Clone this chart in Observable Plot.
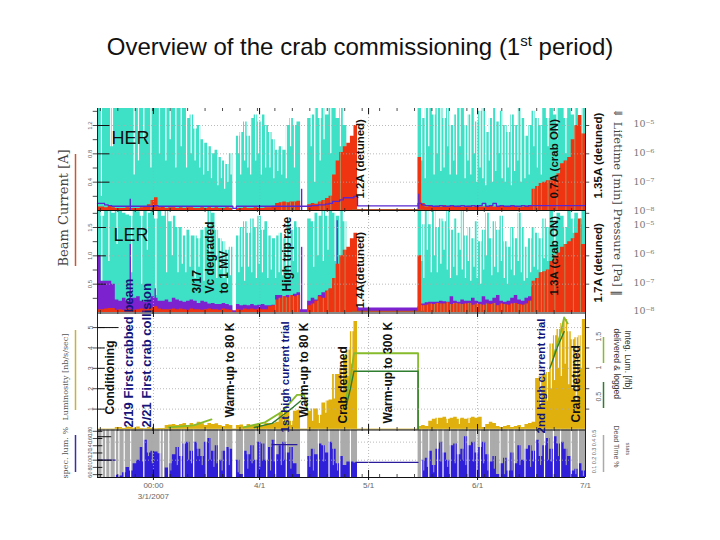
<!DOCTYPE html>
<html><head><meta charset="utf-8">
<script src="https://cdn.jsdelivr.net/npm/d3@7"></script>
<script src="https://cdn.jsdelivr.net/npm/@observablehq/plot@0.6"></script>
<style>
html,body{margin:0;padding:0;background:#fff;width:720px;height:540px;overflow:hidden}
#t{height:90px;box-sizing:border-box;padding-top:33px;text-align:center;font:24px "Liberation Sans",Arial,sans-serif;color:#111;white-space:nowrap}
#t sup{font-size:15px;line-height:0}
svg{display:block;overflow:visible}
</style></head><body>
<div id="t">Overview of the crab commissioning (1<sup>st</sup> period)</div>
<div id="c"></div>
<script>
const herTeal=[
1.44,1.44,1.44,1.44,1.44,1.44,1.44,1.44,1.44,1.44,
1.44,1.44,1.44,1.44,1.44,1.44,1.44,1.44,1.44,1.44,
1.44,1.44,1.44,1.44,1.44,1.3,1.35,1.15,1.2,1.0,
.95,.9,.8,.85,.75,.7,.65,.8,0,1.05,
1.1,1.25,1.05,1.3,1.35,1.25,1.35,1.2,1.1,1.0,
.85,.9,.85,1.2,1.3,1.2,1.25,0,0,1.3,
1.35,1.44,1.3,1.44,1.35,1.44,1.44,1.3,1.44,1.2,
.6,.6,.55,0,0,0,0,0,0,0,
0,0,0,0,0,0,0,0,0,0,
1.44,1.3,1.44,1.44,1.35,1.44,1.44,1.3,1.44,1.2,
1.35,1.44,1.44,1.2,1.35,1.44,1.25,1.4,1.44,1.1,
1.3,1.44,1.25,1.4,1.2,1.1,1.35,1.2,1.44,1.3,
1.05,1.2,1.4,1.3,1.2,1.44,1.3,1.44,1.35,1.44,
1.44,1.3,1.44,1.35,1.44,1.3,1.44,1.44];
const herNotchDay=[1.1,3.7,4.2,10.3,11.5,13,15,17.4,19.2,20.4,22,23.5,25,26.3,27.4,28.7,29.8,31,32,33.8,34.8,35.7,36.6,37.5,
39.6,40.2,41.3,42.2,43,44.4,45.2,46,47.2,48.4,49.5,50.6,51.7,53,54.2,55.3,60,61,62.5,63.6,65.5,68.2,
91,92,93,94.5,95.4,96.4,97.3,98.3,99,100,100.8,101.8,103.2,104,104.8,105.8,106.5,107.4,108.2,109,110,110.9,111.8,112.8,113.6,114.5,115.3,116.2,117.1,118,118.9,120,121.2,122.5,123.5,124.6,126.5,129,131.5,134,136];
const herNotchFloor=[.2,.9,.9,.5,.7,1.0,.6,.8,.7,1.0,.6,.9,.6,.8,.7,.6,.5,.55,.45,.35,.45,.3,.4,.5,
.8,.5,.7,.6,.5,.7,.8,.5,.6,.6,.45,.55,.5,.45,.9,.6,.9,.4,.7,1.0,.8,.9,
.7,.45,.9,.5,.8,.55,.6,.9,.5,.7,.5,.9,.45,.7,.5,.8,.4,.6,.45,.35,.7,.4,.55,.8,.45,.4,.6,.35,.55,.7,.4,.45,.5,.9,.6,.5,.9,1.0,.8,1.0,.9];
const herRed=[
.05,.05,.04,.06,.04,.03,.03,.03,.04,.03,
.03,.03,.04,.05,.08,.14,.18,.04,.05,.03,
.04,.04,.03,.04,.03,.04,.04,.03,.03,.04,
.03,.04,.03,.04,.03,.03,.04,.03,0,.03,
.03,.04,.03,.03,.04,.03,.03,.04,.04,.06,
.1,.11,.12,.11,.12,.12,.13,0,0,.08,
.1,.09,.12,.14,.17,.2,.5,.7,.82,.9,
.95,1.05,1.2,0,0,0,0,0,0,0,
0,0,0,0,0,0,0,0,0,0,
.75,.1,.05,.06,.05,.06,.05,.07,.05,.06,
.05,.06,.05,.05,.06,.05,.06,.05,.05,.05,
.06,.05,.05,.06,.05,.05,.06,.05,.04,.05,
.06,.07,.3,.34,.38,.4,.42,.42,.45,.52,
.66,.7,.75,1.0,1.2,1.34,1.08,.9];
const herPurple=[
.1,.1,.08,.07,.06,.06,.06,.06,.06,.06,
.06,.06,.06,.06,.06,.06,.07,.06,.06,.06,
.06,.06,.06,.06,.06,.06,.06,.06,.06,.06,
.06,.06,.06,.06,.06,.06,.06,.06,.03,.06,
.06,.06,.06,.06,.06,.06,.06,.06,.06,.06,
.06,.06,.06,.06,.06,.06,.06,.06,.06,.06,
.07,.07,.08,.08,.09,.1,.13,.13,.15,.18,
.18,.18,.2,.065,.065,.065,.065,.065,.065,.065,
.065,.065,.065,.065,.065,.065,.065,.065,.065,.065,
.1,.08,.07,.07,.06,.06,.07,.06,.06,.07,
.06,.06,.07,.06,.06,.07,.06,.07,.1,.06,
.07,.1,.06,.07,.06,.06,.07,.06,.06,.07,
.06,.07,.07,.07,.07,.07,.07,.07,.07,.07,
.07,.07,.07,.07,.07,.07,.07,.07];
const herSpikeDay=[9.2,57.3,90.2], herSpikeTop=[.16,.3,.23];
const lerTeal=[
1.8,1.7,1.8,1.8,1.75,1.8,1.8,1.75,1.72,1.7,
1.8,1.78,1.7,1.8,1.75,1.8,1.65,1.8,1.7,1.8,
1.6,1.7,1.5,1.5,1.35,1.45,1.35,1.35,1.3,1.45,
1.5,1.8,1.75,1.45,1.3,1.25,1.1,1.15,0,1.35,
1.5,1.6,1.4,1.65,1.5,1.7,1.45,1.6,1.35,1.3,
1.35,1.4,1.3,1.6,1.45,1.6,1.5,0,0,1.65,
1.6,1.75,1.7,1.8,1.7,1.8,1.75,1.7,1.8,1.6,
.9,.85,.8,0,0,0,0,0,0,0,
0,0,0,0,0,0,0,0,0,0,
1.8,1.55,1.8,1.55,1.8,1.5,1.65,1.6,1.8,1.45,
1.65,1.4,1.8,1.35,1.5,1.3,1.6,1.25,1.45,1.75,
1.3,1.6,1.45,1.7,1.25,1.15,1.5,1.3,1.75,1.5,
1.15,1.3,1.5,1.4,1.3,1.65,1.5,1.8,1.6,1.75,
1.7,1.5,1.8,1.65,1.75,1.55,1.8,1.8];
const lerNotchDay=[1.2,3.2,5.5,9.6,12.4,14,16.4,19.4,21,22.6,23.8,24.8,26,27.4,28.5,29.9,31.5,33.5,34.6,35.5,36.5,37.3,
39.7,40.5,41.3,42.4,43.3,44.6,45.4,46.3,47.8,48.8,50,51,52,53,54,55,56.2,60.7,61.9,63.4,64.7,66.7,68,69.5,
91,91.6,92.6,93.7,94.6,95.4,96.4,97.3,98.2,99.1,100,100.9,101.8,102.4,103.3,104.1,104.8,105.7,106.6,107.6,108.4,109.2,110.7,111.5,112.4,113.4,114.2,115.1,116.2,117,118.1,119,119.8,120.6,121.6,122.6,123.6,124.6,125.4,126.4,128.4,131.2,133.6,135.6];
const lerNotchFloor=[.4,.9,1.2,.7,.5,1.1,.3,.7,1.0,.7,.85,.7,.8,.6,.8,.55,1.0,.6,.75,.6,.5,.65,
.7,.8,.55,.8,.7,.6,.85,.7,.6,.75,.6,.7,.65,.8,.6,.9,.7,.8,1.0,.9,1.1,.9,1.0,.8,
.9,.6,1.1,.7,1.0,.7,.85,1.1,.75,.6,.8,.65,1.1,.75,.6,.9,.55,.8,.6,.5,.75,1.0,.65,.8,.7,.9,.6,.5,.75,.65,.9,.7,.55,.6,.7,.8,.75,.7,.95,.9,1.2,1.1,1.4,1.2];
const lerRed=[
.05,.05,.06,.07,.07,.04,.05,.04,.06,.05,
.04,.05,.06,.05,.06,.08,.1,.06,.05,.05,
.05,.06,.05,.06,.05,.04,.06,.05,.05,.04,
.05,.06,.05,.05,.04,.06,.05,.04,0,.05,
.04,.06,.05,.06,.05,.06,.05,.05,.1,.12,
.22,.25,.28,.26,.3,.28,.3,0,0,.12,
.15,.2,.28,.25,.38,.42,.6,.85,1.0,1.1,
1.15,1.3,1.4,0,0,0,0,0,0,0,
0,0,0,0,0,0,0,0,0,0,
1.0,.12,.13,.15,.14,.16,.15,.15,.17,.14,
.16,.15,.14,.15,.16,.13,.15,.14,.13,.15,
.14,.16,.12,.15,.14,.13,.15,.16,.14,.13,
.15,.2,.55,.6,.7,.72,.75,.9,1.0,1.05,
1.15,1.2,1.25,1.3,1.4,1.65,1.2,1.0];
const lerPurple=[
1.0,.55,.55,.55,.5,.22,.2,.25,.2,.25,
.25,.28,.2,.18,.22,.28,.25,.2,.2,.22,
.18,.25,.22,.2,.18,.2,.22,.2,.16,.2,
.18,.15,.16,.14,.14,.16,.14,.12,.03,.14,
.12,.13,.12,.14,.12,.13,.14,.12,.12,.13,
.3,.3,.28,.3,.3,.32,.35,.05,.05,.2,
.25,.22,.3,.35,.3,.4,.5,.55,.7,.45,
.42,.45,.48,.08,.08,.08,.08,.08,.08,.08,
.08,.08,.08,.08,.08,.08,.08,.08,.08,.08,
.1,.15,.17,.18,.18,.18,.2,.19,.18,.28,
.2,.18,.22,.2,.2,.25,.2,.18,.28,.22,
.2,.25,.3,.2,.18,.2,.25,.3,.22,.2,
.25,.28,.45,.5,.4,.4,.4,.3,.3,.3,
.3,.3,.3,.3,.3,.3,.3,.3];
const lerSpikeDay=[.4,9.2,16.2,57.3,67.3], lerSpikeTop=[1.0,1.2,.42,1.15,1.62];
const lumGold=[
0,0,0,0,0,.1,.1,.05,.12,.1,
.05,.12,.05,.02,.1,.05,.02,.05,.05,.2,
.22,.25,.2,.25,.3,.2,.3,.22,.35,.28,
.2,.3,.25,.28,.2,.15,.25,.2,0,.2,
.22,.12,.25,.2,.25,.3,.15,.3,.28,.3,
.35,.8,.85,.9,.4,.9,.95,0,0,.9,
1.0,1.0,.7,1.3,1.4,1.45,2.7,2.7,3.0,3.6,
3.9,4.8,5.3,0,0,0,0,0,0,0,
0,0,0,0,0,0,0,0,0,0,
.15,.2,.15,.4,.5,.55,.55,.6,.5,.55,
.6,.5,.55,.5,.55,.6,.55,.6,.1,.25,
.35,.3,.15,.1,.15,.2,.1,.15,.2,.1,
.25,.3,.35,2.5,2.6,2.7,2.8,4.2,4.6,4.9,
5.2,5.4,4.8,4.4,4.5,4.6,5.4,4.6];
const lumCutDay=[52.2,54.5,60.4,62.3,64.1,66.5,68.7,70.3,71.4,95.4,98.2,101.6,104.3,124.4,126.3,127.4,128.3,129.4,130.2,131.3,132.3,133.3,134.4,135.2,135.8];
const lumCutFloor=[.3,.2,.4,.3,.8,1.5,1.8,2.6,3.2,.25,.3,.25,.3,1.2,1.4,2.0,2.4,3.0,2.6,3.2,2.2,2.0,1.4,2.6,3.0];
const specBlue=[
52,52,52,52,52,58,56,65,80,70,
90,100,135,155,120,125,123,118,52,78,
90,115,135,110,145,150,125,150,130,110,
150,160,125,140,100,125,135,130,52,100,
60,125,115,140,100,150,145,100,135,155,
115,140,150,120,135,90,60,52,52,110,
130,115,145,140,120,150,130,90,110,85,
95,95,92,52,52,52,52,52,52,52,
52,52,52,52,52,52,52,52,52,52,
52,100,105,125,85,130,150,120,100,140,
145,115,130,165,140,150,120,135,150,115,
95,110,60,90,105,70,120,90,140,100,
130,140,125,155,110,140,160,130,165,145,
150,130,110,70,75,90,70,60];
const blueCutDay=[12.7,14.3,15.4,20.6,22.4,25.6,26.4,28.2,29.4,31.6,32.7,33.5,35,37,39.5,42.2,43.4,45.6,46.4,48.6,49.6,51.6,52.4,54.3,59.6,60.6,63.5,66.2,67.4,91.6,92.6,94.4,96.4,98.3,100.4,102.6,103.4,105.6,108.4,109.6,111.4,114.3,116.4,118.6,121.6,122.4,124.4,126.6,127.4,129.4,131.6,134.3,136.4];
const blueCutFloor=[95,110,90,70,85,100,90,110,85,100,80,90,70,85,65,75,90,80,100,70,95,85,100,75,80,70,95,85,70,70,80,65,95,80,90,100,85,95,90,70,75,60,70,85,80,95,85,100,95,110,85,60,55];
const lightDays=[20,27,32,NaN,41,47,52,56,58,59,NaN,69.6,71,72,90,90,NaN,128,130,131,132];
const lightLum=[.1,.2,.5,NaN,.1,.35,.9,1.7,1.7,.9,NaN,1.4,2.5,3.74,3.74,0,NaN,3.6,4.7,5.5,5.2];
const darkDays=[44,49,52,55,57,NaN,69.6,71,72,90,90,NaN,127,129,131];
const darkLum=[.1,.3,.7,1.1,1.4,NaN,1,2,2.86,2.86,0,NaN,3,4,4.8];
const specStepDays=[0,5,NaN,49,56,NaN,72.5,90];
const specStepVals=[100,100,NaN,143,143,NaN,94,94];
const specGaps=[1.3,2.3,3.5,5,6,7.5,9.3,13,17.6,18.5,20,23.5,24.3,27,30.5,34,36,41,44.5,47.5,50,53,62,65,68,71,91,93,95.5,97,99,101.2,104,106.5,107.5,110,113,115.3,117,120,123,125.5,128,130,133,135];
const offBlocks=[[38,39],[57,59],[73,90]];
const majorDays=[15.7,45.5,76.1,106.7,137];
const dateLabels=["3/1/2007","4/1","5/1","6/1","7/1"];
const herGrid=[.4,.8,1.2], lerGrid=[.5,1,1.5], lumGrid=[1,2,3,4,5], specGrid=[100,150];
const specLabels=[180,160,140,120,100,80,60];
const pressureLabels=[["10⁻⁵",123],["10⁻⁶",152],["10⁻⁷",181],["10⁻⁸",210],["10⁻⁵",224],["10⁻⁶",253],["10⁻⁷",282],["10⁻⁸",310]];

// each panel maps its own value range on the shared vertical scale
const panel=(top,bottom,min,max)=>v=>bottom-(v-min)/(max-min)*(bottom-top);
const her=panel(108,210,0,1.44), ler=panel(210,312,0,1.8), lum=panel(313,429,0,5.69), spec=panel(429,477,52,185);

const idx=herTeal.map((_,i)=>i);
const fill=(arr,f,color,base)=>Plot.areaY(idx,{x:i=>i,y1:()=>base,y2:i=>f(arr[i]),fill:color,curve:"step-after"});
const cuts=(days,floors,f,top,color,w)=>Plot.ruleX(days,{y1:(d,i)=>f(floors[i]),y2:top,stroke:color,strokeWidth:w});
const spikes=(days,tops,f,base,color)=>Plot.ruleX(days,{y1:base,y2:(d,i)=>f(tops[i]),stroke:color,strokeWidth:1.4});
const sans='"Liberation Sans",Arial,sans-serif', serif='"DejaVu Serif",serif';
const note=(s,px,py,o={})=>Plot.text([s],{frameAnchor:"top-left",textAnchor:"start",lineAnchor:"middle",rotate:-90,dx:px-97,dy:py-108,fontSize:12,fontWeight:"bold",fontFamily:sans,fill:"#111",...o});
const navy={fill:"#14147a"};
const side=(s,px,py,o={})=>note(s,px,py,{fontWeight:"normal",fontFamily:serif,fontSize:8,fill:"#555",...o});
const hline=(px1,px2,py,c,w=1)=>Plot.ruleY([py],{x1:(px1-97)/3.562,x2:(px2-97)/3.562,stroke:c,strokeWidth:w});
const vline=(px,y1,y2,c,w=1.5)=>Plot.ruleX([(px-97)/3.562],{y1,y2,stroke:c,strokeWidth:w});
const minor=d3.range(.8,137,4.9);
const TEAL="#3ee0c6",RED="#ee3410",PUR="#7d22cf",GOLD="#e0b00f",GRAY="#ababab",BLUE="#2f1fd8";
const grid={stroke:"#aaa",strokeDasharray:"1,2",strokeWidth:.8};
const redCuts=(days,arr,f,base)=>Plot.ruleX(days.filter(d=>arr[Math.floor(d)]>.1),{y1:base,y2:d=>f(arr[Math.floor(d)]),stroke:"#a9a06a",strokeWidth:.8});
const rotSmall={rotate:-90,fontFamily:sans};

const plot=Plot.plot({
 width:720,height:430,marginLeft:97,marginRight:135,marginTop:18,marginBottom:42,
 x:{domain:[0,137],axis:null},y:{domain:[478,108],axis:null},
 style:{background:"transparent"},
 marks:[
  fill(herTeal,her,TEAL,210),
  fill(lerTeal,ler,TEAL,312),
  cuts(herNotchDay,herNotchFloor,her,108,"#fff",1.2),
  cuts(lerNotchDay,lerNotchFloor,ler,210,"#fff",1.2),
  fill(lerPurple,ler,PUR,312),
  spikes(lerSpikeDay,lerSpikeTop,ler,312,PUR),
  fill(herRed,her,RED,210),
  fill(lerRed,ler,RED,312),
  redCuts(herNotchDay,herRed,her,210),
  redCuts(lerNotchDay,lerRed,ler,312),
  Plot.line(idx,{x:i=>i,y:i=>her(herPurple[i]),stroke:"#5a28d0",strokeWidth:1.3,curve:"step-after"}),
  spikes(herSpikeDay,herSpikeTop,her,210,"#5a28d0"),
  hline(352,424,her(.012),"#b9552c",1.2),
  hline(352,424,ler(.02),"#b9552c",1.2),
  // luminosity
  fill(lumGold,lum,GOLD,429),
  cuts(lumCutDay,lumCutFloor,lum,313,"#fff",1.1),
  hline(97,585,428.6,"#dfc65a",1.2),
  Plot.line(lightDays,{x:d=>d,y:(d,i)=>lum(lightLum[i]),stroke:"#86bb2c",strokeWidth:1.8}),
  Plot.line(darkDays,{x:d=>d,y:(d,i)=>lum(darkLum[i]),stroke:"#2f7d2f",strokeWidth:1.4}),
  // spec lum / dead time
  Plot.rectY([[0,137]],{x1:d=>d[0],x2:d=>d[1],y1:429.5,y2:477,fill:GRAY}),
  Plot.areaY(idx,{x:i=>i,y1:()=>477,y2:i=>spec(specBlue[i]),fill:BLUE,curve:"step-after"}),
  cuts(blueCutDay,blueCutFloor,spec,429.5,GRAY,1),
  Plot.ruleX(specGaps,{y1:477,y2:429.5,stroke:"#fff",strokeWidth:1.2}),
  Plot.rect(offBlocks,{x1:d=>d[0],x2:d=>d[1],y1:430,y2:477,fill:"#fff"}),
  Plot.line(specStepDays,{x:d=>d,y:(d,i)=>spec(specStepVals[i]),stroke:"#2a1a9c",strokeWidth:1.2}),
  // grid
  Plot.ruleY(herGrid.map(her),grid),
  Plot.ruleY(lerGrid.map(ler),grid),
  Plot.ruleY(lumGrid.map(lum),grid),
  Plot.ruleY(specGrid.map(spec),grid),
  Plot.ruleX(majorDays.slice(0,4),{y1:108,y2:477,...grid}),
  // frame & ticks
  Plot.ruleX([0,137],{y1:108,y2:477,stroke:"#222",strokeWidth:1}),
  Plot.ruleY([210,312.5],{stroke:"#111",strokeWidth:1}),
  Plot.ruleY([429.5,477],{stroke:"#111",strokeWidth:1}),
  ...[[108,114],[205,215],[307,317],[424,434],[470,480]].map(([a,b])=>Plot.ruleX(majorDays.slice(0,4),{y1:a,y2:b,stroke:"#111",strokeWidth:1})),
  ...[[108,111],[208,212],[310,314],[427,431],[474,478]].map(([a,b])=>Plot.ruleX(minor,{y1:a,y2:b,stroke:"#222",strokeWidth:.8})),
  Plot.ruleY(herGrid.map(her),{x1:0,x2:3.5,stroke:"#111",strokeWidth:1}),
  Plot.ruleY(lerGrid.map(ler),{x1:0,x2:2.5,stroke:"#111",strokeWidth:1}),
  Plot.ruleY(lumGrid.map(lum),{x1:0,x2:2.2,stroke:"#111",strokeWidth:1}),
  Plot.ruleY(specLabels.map(spec),{x1:0,x2:1.5,stroke:"#111",strokeWidth:1}),
  Plot.ruleY([lum(5)],{x1:0,x2:6,stroke:"#111",strokeWidth:1}),
  Plot.ruleY([spec(165),spec(100)],{x1:0,x2:4,stroke:"#111",strokeWidth:1}),
  Plot.ruleY(herGrid.concat([.2,.6,1,1.4]).map(her),{x1:-1.2,x2:0,stroke:"#222",strokeWidth:.8}),
  Plot.ruleY(lerGrid.concat([.25,.75,1.25,1.75]).map(ler),{x1:-1.2,x2:0,stroke:"#222",strokeWidth:.8}),
  Plot.ruleY(lumGrid.map(lum),{x1:-1.2,x2:0,stroke:"#222",strokeWidth:.8}),
  Plot.ruleY(specLabels.map(spec),{x1:-1.2,x2:0,stroke:"#222",strokeWidth:.8}),
  Plot.ruleY([her(.4),her(.8),her(1.2),ler(.5),ler(1),ler(1.5),ler(1.75),lum(1),lum(2),lum(3),lum(4),lum(5)],{x1:137,x2:138.2,stroke:"#222",strokeWidth:.8}),
  // tick labels
  Plot.text(herGrid,{x:-2,y:d=>her(d),text:d=>d3.format(".1f")(d),fontSize:6,fill:"#666",...rotSmall}),
  Plot.text(lerGrid,{x:-2,y:d=>ler(d),text:d=>d3.format(".1f")(d),fontSize:6,fill:"#666",...rotSmall}),
  Plot.text(lumGrid,{x:-2,y:d=>lum(d),text:d=>String(d),fontSize:7,fill:"#666",...rotSmall}),
  Plot.text(specLabels,{x:-2,y:d=>spec(d),text:d=>String(d),fontSize:5.5,fill:"#555",...rotSmall}),
  note("1.5",598,341,{fontSize:7,fontWeight:"normal",fill:"#666"}),
  note("1",598,369,{fontSize:7,fontWeight:"normal",fill:"#666"}),
  note("0.5",598,401,{fontSize:7,fontWeight:"normal",fill:"#666"}),
  Plot.text(["0.5","0.4","0.3","0.2","0.1"],{x:139.5,y:(d,i)=>[433,442,451,460,469][i],fontSize:5.5,fill:"#666",...rotSmall}),
  Plot.text(majorDays,{x:d=>d,y:485,text:(d,i)=>i==0?"00:00":dateLabels[i],fontSize:8,fill:"#666",fontFamily:sans}),
  Plot.text(["3/1/2007"],{x:majorDays[0],y:496,fontSize:8,fill:"#666",fontFamily:sans}),
  ...pressureLabels.map(([s,y])=>Plot.text([s],{frameAnchor:"top-left",textAnchor:"start",lineAnchor:"middle",dx:633-97,dy:y-108,fontSize:9.5,fill:"#777",fontFamily:serif})),
  // panel names
  Plot.text(["HER"],{frameAnchor:"top-left",textAnchor:"start",lineAnchor:"bottom",dx:111-97,dy:143-108,fontSize:18,fontFamily:sans,fill:"#111"}),
  Plot.text(["LER"],{frameAnchor:"top-left",textAnchor:"start",lineAnchor:"bottom",dx:113-97,dy:240-108,fontSize:18,fontFamily:sans,fill:"#111"}),
  // annotations
  note("Conditioning",110,414),
  note("2/19 First crabbed beam",128,427,{...navy,fontSize:13}),
  note("2/21 First crab collision",146,427,{...navy,fontSize:13}),
  note("3/17",197,293),
  note("Vc degraded",210,293),
  note("to 1 MV",224,293),
  note("High trip rate",287,291),
  note("Warm-up to 80 K",230,417),
  note("1st high current trial",285,432,{...navy,fontSize:11.5}),
  note("Warm-up to 80 K",304,417),
  note("Crab detuned",343,423),
  note("Warm-up to 300 K",388,423),
  note("2nd high current trial",541,433,{...navy,fontSize:11.5}),
  note("Crab detuned",576,422),
  note("1.2A (detuned)",360,198,{fontSize:11.5}),
  note("1.4A(detuned)",360,308,{fontSize:11.5}),
  note("0.7A (crab ON)",554,198,{fontSize:11.5}),
  note("1.3A (crab ON)",554,295,{fontSize:11.5}),
  note("1.35A (detuned)",598,198,{fontSize:11.5}),
  note("1.7A (detuned)",598,302,{fontSize:11.5}),
  // side titles
  side("Beam Current [A]",63,266,{fontSize:13,fill:"#444"}),
  vline(75,154,266,"#d0552f"),
  side("Luminosity [nb/s/sec]",65,420,{fontSize:8}),
  vline(75,330,410,"#c9b23a"),
  side("spec. lum. %",65,478,{fontSize:8}),
  vline(75,435,472,"#3a2ea8"),
  Plot.text(["⇓ Lifetime [min] Pressure [Pa] ‖"],{frameAnchor:"top-left",textAnchor:"start",lineAnchor:"middle",rotate:90,dx:617-97,dy:0,fontSize:11.5,fontFamily:serif,fill:"#444"}),
  vline(603,337,363,"#86bb2c"),
  vline(603,382,408,"#2f7d2f"),
  vline(603,435,472,"#aaa"),
  Plot.text(["Integ. Lum. [/fb]"],{frameAnchor:"top-left",textAnchor:"start",lineAnchor:"middle",rotate:90,dx:627-97,dy:330-108,fontSize:8.5,fontFamily:sans,fill:"#333"}),
  Plot.text(["delivered & logged"],{frameAnchor:"top-left",textAnchor:"start",lineAnchor:"middle",rotate:90,dx:616-97,dy:328-108,fontSize:8.5,fontFamily:sans,fill:"#333"}),
  Plot.text(["Dead Time %"],{frameAnchor:"top-left",textAnchor:"start",lineAnchor:"middle",rotate:90,dx:616-97,dy:425-108,fontSize:7,fontFamily:sans,fill:"#555"}),
  Plot.text(["stats"],{frameAnchor:"top-left",textAnchor:"start",lineAnchor:"middle",rotate:90,dx:627-97,dy:442-108,fontSize:6,fontFamily:sans,fill:"#555"})
 ]
});
document.getElementById("c").append(plot);
</script>
</body></html>
